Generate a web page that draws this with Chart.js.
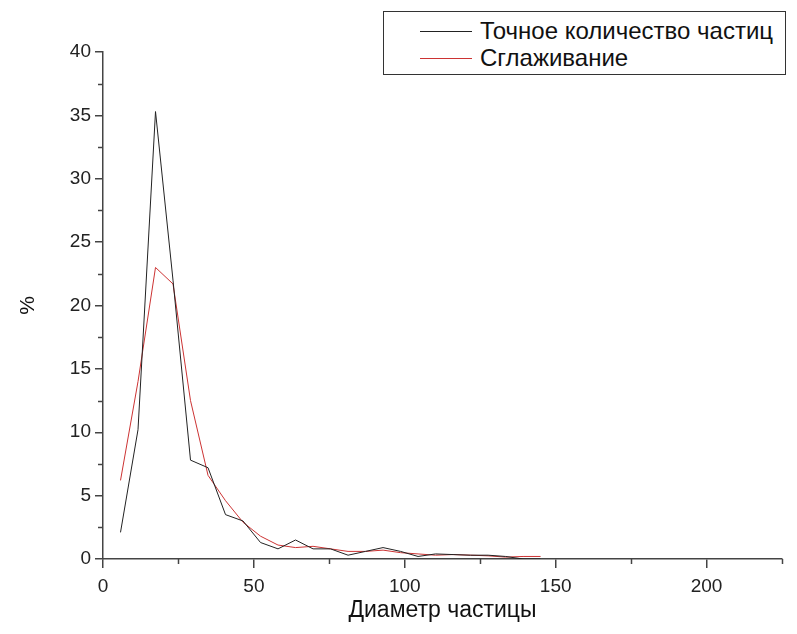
<!DOCTYPE html>
<html lang="ru">
<head>
  <meta charset="UTF-8" />
  <title>Распределение частиц по диаметру</title>
  <script src="https://cdn.jsdelivr.net/npm/chart.js"></script>
  <style>
    body { margin: 0; background: #fff; font-family: "Liberation Sans", Arial, sans-serif; }
    #wrap { position: relative; width: 797px; height: 634px; }
    #legend {
      position: absolute; left: 383px; top: 11px; width: 401px; height: 62px;
      border: 1px solid #333; background: #fff;
    }
    .row { position: absolute; left: 0; height: 26px; display: flex; align-items: center; }
    .row span.ln { display: inline-block; width: 52px; height: 0; border-top: 1px solid; margin-left: 36px; margin-right: 8px; }
    .row span.tx { font-size: 24px; color: #111; }
  </style>
</head>
<body>
  <div id="wrap">
    <canvas id="chart" width="797" height="634"></canvas>
    <div id="legend"></div>
  </div>

  <script>
    // диаметр частицы (центры интервалов)
    const diameters = [5.8, 11.6, 17.4, 23.2, 29.0, 34.8, 40.6, 46.4, 52.2, 58.0, 63.8, 69.6, 75.4,
                       81.2, 87.0, 92.8, 98.6, 104.4, 110.2, 116.0, 121.8, 127.6, 133.4, 139.2, 145.0];
    // точное количество частиц, %
    const exactPct = [2.1, 10.2, 35.3, 22.0, 7.8, 7.2, 3.5, 3.0, 1.3, 0.8, 1.5, 0.8, 0.8,
                      0.3, 0.6, 0.9, 0.6, 0.2, 0.4, 0.35, 0.3, 0.3, 0.2, 0.0, 0.0];
    // сглаживание, %
    const smoothPct = [6.2, 14.0, 23.0, 21.7, 12.5, 6.6, 4.6, 2.9, 1.8, 1.1, 0.9, 1.0, 0.8,
                       0.6, 0.6, 0.7, 0.5, 0.4, 0.3, 0.35, 0.3, 0.25, 0.15, 0.2, 0.2];
    const seriesNames = ["Точное количество частиц", "Сглаживание"];
    const seriesColors = ["#222222", "#cc3333"];

    const toPoints = ys => diameters.map((x, i) => ({ x, y: ys[i] }));

    const axisColor = "#444";
    const font = { family: '"Liberation Sans", Arial, sans-serif', size: 19 };

    // короткие промежуточные засечки
    const minorTicks = {
      id: "minorTicks",
      afterDraw(chart) {
        const ctx = chart.ctx;
        const xs = chart.scales.x, ys = chart.scales.y;
        ctx.save();
        ctx.strokeStyle = axisColor;
        ctx.lineWidth = 1.5;
        for (let v = 25; v <= xs.max; v += 50) {
          const px = Math.round(xs.getPixelForValue(v)) + 0.5;
          ctx.beginPath(); ctx.moveTo(px, xs.top); ctx.lineTo(px, xs.top + 5); ctx.stroke();
        }
        for (let v = 2.5; v <= ys.max; v += 5) {
          const py = Math.round(ys.getPixelForValue(v)) + 0.5;
          ctx.beginPath(); ctx.moveTo(ys.right, py); ctx.lineTo(ys.right - 5, py); ctx.stroke();
        }
        ctx.restore();
      }
    };

    const chart = new Chart(document.getElementById("chart"), {
      type: "line",
      data: {
        datasets: seriesNames.map((name, i) => ({
          label: name,
          data: toPoints(i === 0 ? exactPct : smoothPct),
          borderColor: seriesColors[i],
          borderWidth: 1,
          pointRadius: 0,
          tension: 0,
          fill: false
        }))
      },
      options: {
        responsive: false,
        animation: false,
        layout: { padding: { top: 52, right: 15, left: 0, bottom: 0 } },
        plugins: { legend: { display: false }, tooltip: { enabled: false } },
        scales: {
          x: {
            type: "linear",
            min: 0, max: 225,
            afterFit: s => { s.height = 75; },
            border: { display: true, color: axisColor, width: 1.5 },
            grid: {
              drawOnChartArea: false, tickLength: 9, lineWidth: 1.5,
              tickColor: c => (c.tick && c.tick.value % 50 === 0) ? axisColor : "rgba(0,0,0,0)"
            },
            ticks: {
              stepSize: 50, color: "#222", font, padding: 7, maxRotation: 0,
              callback: v => v % 50 === 0 ? v : ""
            },
            title: { display: true, text: "Диаметр частицы", color: "#111",
                     font: { family: font.family, size: 23 }, padding: { top: 0, bottom: 10 } }
          },
          y: {
            min: 0, max: 40,
            afterFit: s => { s.width = 103; },
            border: { display: true, color: axisColor, width: 1.5 },
            grid: { drawOnChartArea: false, color: axisColor, tickLength: 8, lineWidth: 1.5 },
            ticks: { stepSize: 5, color: "#222", font, padding: 4 },
            title: { display: true, text: "%", color: "#111",
                     font: { family: font.family, size: 21 }, padding: { top: 16, bottom: 0 } }
          }
        }
      },
      plugins: [minorTicks]
    });

    // легенда в рамке, как в оригинале
    const legend = document.getElementById("legend");
    chart.data.datasets.forEach((ds, i) => {
      const row = document.createElement("div");
      row.className = "row";
      row.style.top = (6 + i * 27) + "px";
      row.innerHTML = `<span class="ln" style="border-color:${ds.borderColor}"></span><span class="tx">${ds.label}</span>`;
      legend.appendChild(row);
    });
  </script>
</body>
</html>
